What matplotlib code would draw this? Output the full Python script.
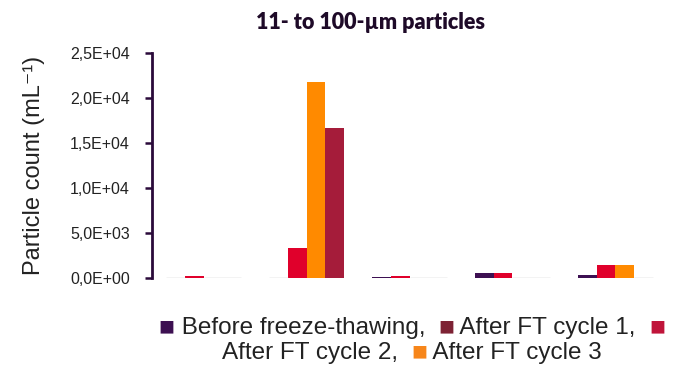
import matplotlib
matplotlib.use("Agg")
import matplotlib.pyplot as plt
import numpy as np
from matplotlib.offsetbox import TextArea, HPacker, AnchoredOffsetbox
from matplotlib.ticker import FuncFormatter

# data (bars in the order they appear inside each group)
groups = ["g1", "g2", "g3", "g4", "g5"]
before = [0, 0, 120, 500, 300]
cycle2 = [200, 3300, 250, 600, 1400]
cycle3 = [0, 21800, 0, 0, 1400]
cycle1 = [0, 16700, 0, 0, 0]

series = [
    ("Before freeze-thawing", before, "#3d1052"),
    ("After FT cycle 2", cycle2, "#e0002b"),
    ("After FT cycle 3", cycle3, "#ff8a00"),
    ("After FT cycle 1", cycle1, "#a51c3a"),
]
legend_rows = [
    [("■", "#3d1052"), (" Before freeze-thawing,  ", "#222222"), ("■", "#7d2234"),
     (" After FT cycle 1,  ", "#222222"), ("■", "#c0143a")],
    [("After FT cycle 2,  ", "#222222"), ("■", "#f7861a"), (" After FT cycle 3", "#222222")],
]

fig = plt.figure(figsize=(6.73, 3.73), dpi=100)
ax = fig.add_axes([0.226, 0.2547, 0.765, 0.6033])

x = np.arange(len(groups))
w = 0.184
for i, (name, vals, col) in enumerate(series):
    pos = x + (i - 1.5) * w
    ax.bar(pos, vals, width=w, color=col, label=name)
    # faint baseline where a bar is zero
    for p, v in zip(pos, vals):
        if v == 0:
            ax.hlines(0, p - w / 2, p + w / 2, color="#c4c4c4", lw=1)

ax.set_xlim(-0.5, len(groups) - 0.5)
ax.set_ylim(0, 25000)
ax.set_yticks(np.arange(0, 25001, 5000))
ax.yaxis.set_major_formatter(FuncFormatter(lambda v, p: f"{v:.1E}".replace(".", ",")))
ax.set_xticks([])
for s in ["top", "right", "bottom"]:
    ax.spines[s].set_visible(False)
ax.spines["left"].set_color("#2a0a3a")
ax.spines["left"].set_linewidth(2)
ax.tick_params(axis="y", direction="out", length=5, width=1.8, color="#2a0a3a",
               labelsize=11.5, labelcolor="#222222", pad=11)
for t in ax.get_yticklabels():
    t.set_family(["Liberation Sans", "DejaVu Sans"])

ax.set_ylabel("Particle count (mL⁻¹)", fontsize=17, color="#222222",
              family=["Liberation Sans", "DejaVu Sans"], labelpad=18)

fig.text(0.55, 0.94, "11- to 100-µm particles", ha="center", va="center",
         fontsize=15.5, fontweight="heavy", color="#1e0a28", family=["Lato", "DejaVu Sans"])

# wrapped legend built from text pieces
for r, row in enumerate(legend_rows):
    parts = []
    for t, c in row:
        fs = 19 if t == "■" else 17.5
        parts.append(TextArea(t, textprops=dict(color=c, fontsize=fs,
                                                family=["Liberation Sans", "DejaVu Sans"])))
    box = HPacker(children=parts, align="baseline", pad=0, sep=0)
    anc = AnchoredOffsetbox(loc="center", child=box, frameon=False,
                            bbox_to_anchor=(0.612, 0.123 - r * 0.068),
                            bbox_transform=fig.transFigure, pad=0, borderpad=0)
    fig.add_artist(anc)

fig.savefig("out.png", dpi=100)
